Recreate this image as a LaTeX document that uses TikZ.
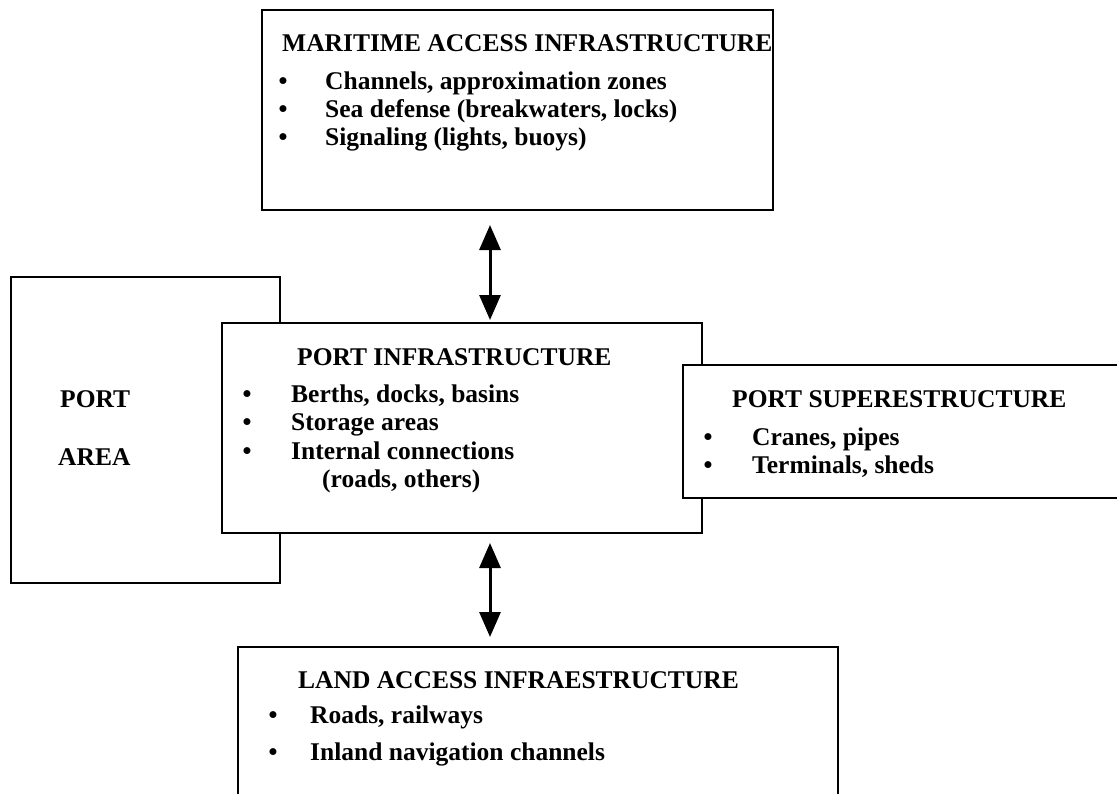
\documentclass[tikz,border=0pt]{standalone}
\usepackage{fontspec}
\setmainfont{Liberation Serif}
\usetikzlibrary{arrows.meta}

\tikzset{
    box/.style={draw, line width=2pt, fill=white, inner sep=0pt, outer sep=0pt, anchor=north west},
    txt/.style={font=\fontsize{25.5}{29}\selectfont\bfseries, inner sep=0pt, anchor=base west},
    dot/.style={font=\fontsize{25.5}{29}\selectfont\bfseries, inner sep=0pt, anchor=base},
    link/.style={line width=3pt, {Triangle[length=25pt,width=21pt]}-{Triangle[length=25pt,width=21pt]}}
}

\begin{document}
\begin{tikzpicture}[x=1pt,y=-1pt]
            \useasboundingbox (0,0) rectangle (1117,793);
            \clip (0,0) rectangle (1117,793);
            % boxes, back to front
            \node[box, minimum width=269, minimum height=306] (area) at (11,277) {};
            \node[box, minimum width=511, minimum height=200] (sea) at (262,10) {};
            \node[box, minimum width=480, minimum height=210] (infra) at (222,323) {};
            \node[box, minimum width=442, minimum height=133] (super) at (683,365) {};
            \node[box, minimum width=600, minimum height=200] (land) at (238,647) {};
            \coordinate (axis) at (490,0);
            % arrows
            \draw[link, shorten <=15pt, shorten >=3pt] (sea.south -| axis) -- (infra.north -| axis);
            \draw[link, shorten <=10pt, shorten >=10pt] (infra.south -| axis) -- (land.north -| axis);
            % port area
            \node[txt] (areaA) at (60,407) {PORT};
            \node[txt] (areaB) at (58,465) {AREA};
            % maritime access
            \node[txt] (seaT) at (282,51) {MARITIME ACCESS INFRASTRUCTURE};
            \node[dot] (seaD1) at (283,89) {\textbullet};
            \node[txt] (seaL1) at (325,89) {Channels, approximation zones};
            \node[dot] (seaD2) at (283,117) {\textbullet};
            \node[txt] (seaL2) at (325,117) {Sea defense (breakwaters, locks)};
            \node[dot] (seaD3) at (283,145) {\textbullet};
            \node[txt] (seaL3) at (325,145) {Signaling (lights, buoys)};
            % port infrastructure
            \node[txt] (infraT) at (297,365) {PORT INFRASTRUCTURE};
            \node[dot] (infraD1) at (247,402) {\textbullet};
            \node[txt] (infraL1) at (291,402) {Berths, docks, basins};
            \node[dot] (infraD2) at (247,430) {\textbullet};
            \node[txt] (infraL2) at (291,430) {Storage areas};
            \node[dot] (infraD3) at (247,459) {\textbullet};
            \node[txt] (infraL3) at (291,459) {Internal connections};
            \node[txt] (infraL4) at (322,487) {(roads, others)};
            % port superstructure
            \node[txt] (superT) at (732,407) {PORT SUPERESTRUCTURE};
            \node[dot] (superD1) at (708,445) {\textbullet};
            \node[txt] (superL1) at (752,445) {Cranes, pipes};
            \node[dot] (superD2) at (708,473) {\textbullet};
            \node[txt] (superL2) at (752,473) {Terminals, sheds};
            % land access
            \node[txt] (landT) at (298,688) {LAND ACCESS INFRAESTRUCTURE};
            \node[dot] (landD1) at (273,723) {\textbullet};
            \node[txt] (landL1) at (310,723) {Roads, railways};
            \node[dot] (landD2) at (273,760) {\textbullet};
            \node[txt] (landL2) at (310,760) {Inland navigation channels};
        \end{tikzpicture}
\end{document}
